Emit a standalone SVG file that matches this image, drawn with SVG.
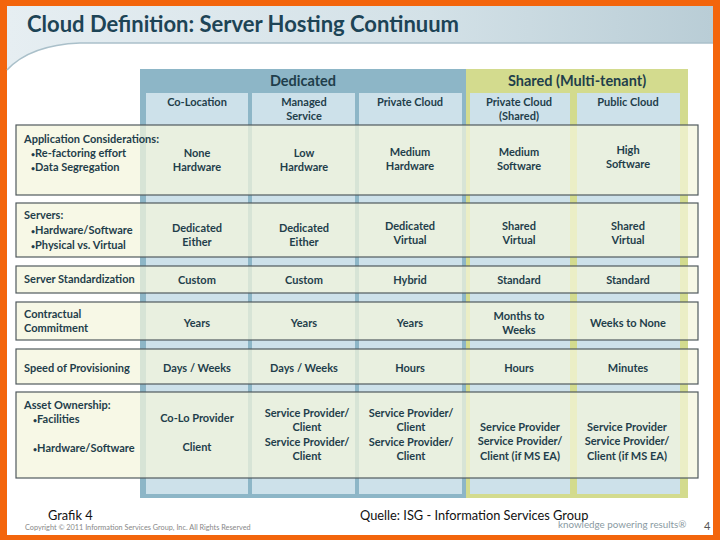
<svg xmlns="http://www.w3.org/2000/svg" width="720" height="540" viewBox="0 0 720 540">
<defs>
<linearGradient id="hdr" x1="0" y1="0" x2="1" y2="0">
<stop offset="0" stop-color="#e6eef2"/>
<stop offset="0.6" stop-color="#d3e1e7"/>
<stop offset="1" stop-color="#b9cdd6"/>
</linearGradient>
<style>
text{font-family:Lato,"Open Sans","Liberation Sans",sans-serif;font-weight:bold;fill:#1f3e4b;font-size:11px}
.c{text-anchor:middle}
.h{font-size:14.5px}
.b{font-size:7px}
.row{fill:#f4f5dc;fill-opacity:0.72;stroke:#505a5e;stroke-width:1.2}
.col{fill:#cde1ea}
.ft{font-weight:normal;fill:#111;font-size:12.8px}
</style>
</defs>
<rect x="0" y="0" width="720" height="540" fill="#f3650c"/>
<rect x="7" y="6" width="706" height="529" fill="#ffffff"/>
<path d="M7 6 H713 V43 H80 Q30 45 7 70 Z" fill="url(#hdr)"/>
<path d="M7 70 Q30 45 80 43 H713" fill="none" stroke="#aac0ca" stroke-width="1.5"/>
<text x="27" y="32" style="font-size:22px;fill:#1d4456">Cloud Definition: Server Hosting Continuum</text>

<g id="dedicated">
<rect x="140" y="69" width="326" height="429" fill="#8db6c7"/>
<text class="c h" x="303" y="86">Dedicated</text>
</g>
<g id="shared">
<rect x="466" y="69" width="222" height="429" fill="#d3db8e"/>
<text class="c h" x="577" y="86">Shared (Multi-tenant)</text>
</g>
<g id="col-colocation">
<rect class="col" x="146" y="93" width="102" height="401"/>
<text class="c" x="197" y="106">Co-Location</text>
</g>
<g id="col-managed">
<rect class="col" x="252" y="93" width="103" height="401"/>
<text class="c" x="304" y="106">Managed</text>
<text class="c" x="304" y="120">Service</text>
</g>
<g id="col-private">
<rect class="col" x="359" y="93" width="103" height="401"/>
<text class="c" x="410" y="106">Private Cloud</text>
</g>
<g id="col-privateshared">
<rect class="col" x="470" y="93" width="100" height="401"/>
<text class="c" x="519" y="106">Private Cloud</text>
<text class="c" x="519" y="120">(Shared)</text>
</g>
<g id="col-public">
<rect class="col" x="577" y="93" width="103" height="401"/>
<text class="c" x="628" y="106">Public Cloud</text>
</g>

<g id="row-application">
<rect class="row" x="16" y="125" width="682" height="70"/>
<text x="24" y="143">Application Considerations:</text>
<text x="31" y="157"><tspan class="b">•</tspan>Re-factoring effort</text>
<text x="31" y="171"><tspan class="b">•</tspan>Data Segregation</text>
<text class="c" x="197" y="157">None</text><text class="c" x="197" y="171">Hardware</text>
<text class="c" x="304" y="157">Low</text><text class="c" x="304" y="171">Hardware</text>
<text class="c" x="410" y="156">Medium</text><text class="c" x="410" y="170">Hardware</text>
<text class="c" x="519" y="156">Medium</text><text class="c" x="519" y="170">Software</text>
<text class="c" x="628" y="154">High</text><text class="c" x="628" y="168">Software</text>
</g>
<g id="row-servers">
<rect class="row" x="16" y="203" width="682" height="54"/>
<text x="24" y="219">Servers:</text>
<text x="31" y="234"><tspan class="b">•</tspan>Hardware/Software</text>
<text x="31" y="249"><tspan class="b">•</tspan>Physical vs. Virtual</text>
<text class="c" x="197" y="232">Dedicated</text><text class="c" x="197" y="246">Either</text>
<text class="c" x="304" y="232">Dedicated</text><text class="c" x="304" y="246">Either</text>
<text class="c" x="410" y="230">Dedicated</text><text class="c" x="410" y="244">Virtual</text>
<text class="c" x="519" y="230">Shared</text><text class="c" x="519" y="244">Virtual</text>
<text class="c" x="628" y="230">Shared</text><text class="c" x="628" y="244">Virtual</text>
</g>
<g id="row-standardization">
<rect class="row" x="16" y="266" width="682" height="27"/>
<text x="24" y="283">Server Standardization</text>
<text class="c" x="197" y="284">Custom</text>
<text class="c" x="304" y="284">Custom</text>
<text class="c" x="410" y="284">Hybrid</text>
<text class="c" x="519" y="284">Standard</text>
<text class="c" x="628" y="284">Standard</text>
</g>
<g id="row-contractual">
<rect class="row" x="16" y="302" width="682" height="38"/>
<text x="24" y="318">Contractual</text>
<text x="24" y="332">Commitment</text>
<text class="c" x="197" y="327">Years</text>
<text class="c" x="304" y="327">Years</text>
<text class="c" x="410" y="327">Years</text>
<text class="c" x="519" y="320">Months to</text><text class="c" x="519" y="334">Weeks</text>
<text class="c" x="628" y="327">Weeks to None</text>
</g>
<g id="row-speed">
<rect class="row" x="16" y="349" width="682" height="35"/>
<text x="24" y="372">Speed of Provisioning</text>
<text class="c" x="197" y="372">Days / Weeks</text>
<text class="c" x="304" y="372">Days / Weeks</text>
<text class="c" x="410" y="372">Hours</text>
<text class="c" x="519" y="372">Hours</text>
<text class="c" x="628" y="372">Minutes</text>
</g>
<g id="row-asset">
<rect class="row" x="16" y="392" width="682" height="86"/>
<text x="24" y="409">Asset Ownership:</text>
<text x="33" y="423"><tspan class="b">•</tspan>Facilities</text>
<text x="33" y="452"><tspan class="b">•</tspan>Hardware/Software</text>
<text class="c" x="197" y="422">Co-Lo Provider</text><text class="c" x="197" y="451">Client</text>
<text class="c" x="307" y="417">Service Provider/</text><text class="c" x="307" y="431">Client</text>
<text class="c" x="307" y="446">Service Provider/</text><text class="c" x="307" y="460">Client</text>
<text class="c" x="411" y="417">Service Provider/</text><text class="c" x="411" y="431">Client</text>
<text class="c" x="411" y="446">Service Provider/</text><text class="c" x="411" y="460">Client</text>
<text class="c" x="520" y="431">Service Provider</text><text class="c" x="520" y="445">Service Provider/</text><text class="c" x="520" y="460">Client (if MS EA)</text>
<text class="c" x="627" y="431">Service Provider</text><text class="c" x="627" y="445">Service Provider/</text><text class="c" x="627" y="460">Client (if MS EA)</text>
</g>
<g id="connectors"></g>

<text class="ft" x="48" y="520">Grafik 4</text>
<text class="ft" x="360" y="520">Quelle: ISG - Information Services Group</text>
<text x="25" y="530" style="font-weight:normal;font-size:7.3px;fill:#888">Copyright © 2011 Information Services Group, Inc. All Rights Reserved</text>
<text x="558" y="528" style="font-weight:normal;font-size:9.8px;fill:#8a9aa2">knowledge powering results®</text>
<text x="704" y="530" style="font-weight:normal;font-size:11px;fill:#555">4</text>
</svg>
